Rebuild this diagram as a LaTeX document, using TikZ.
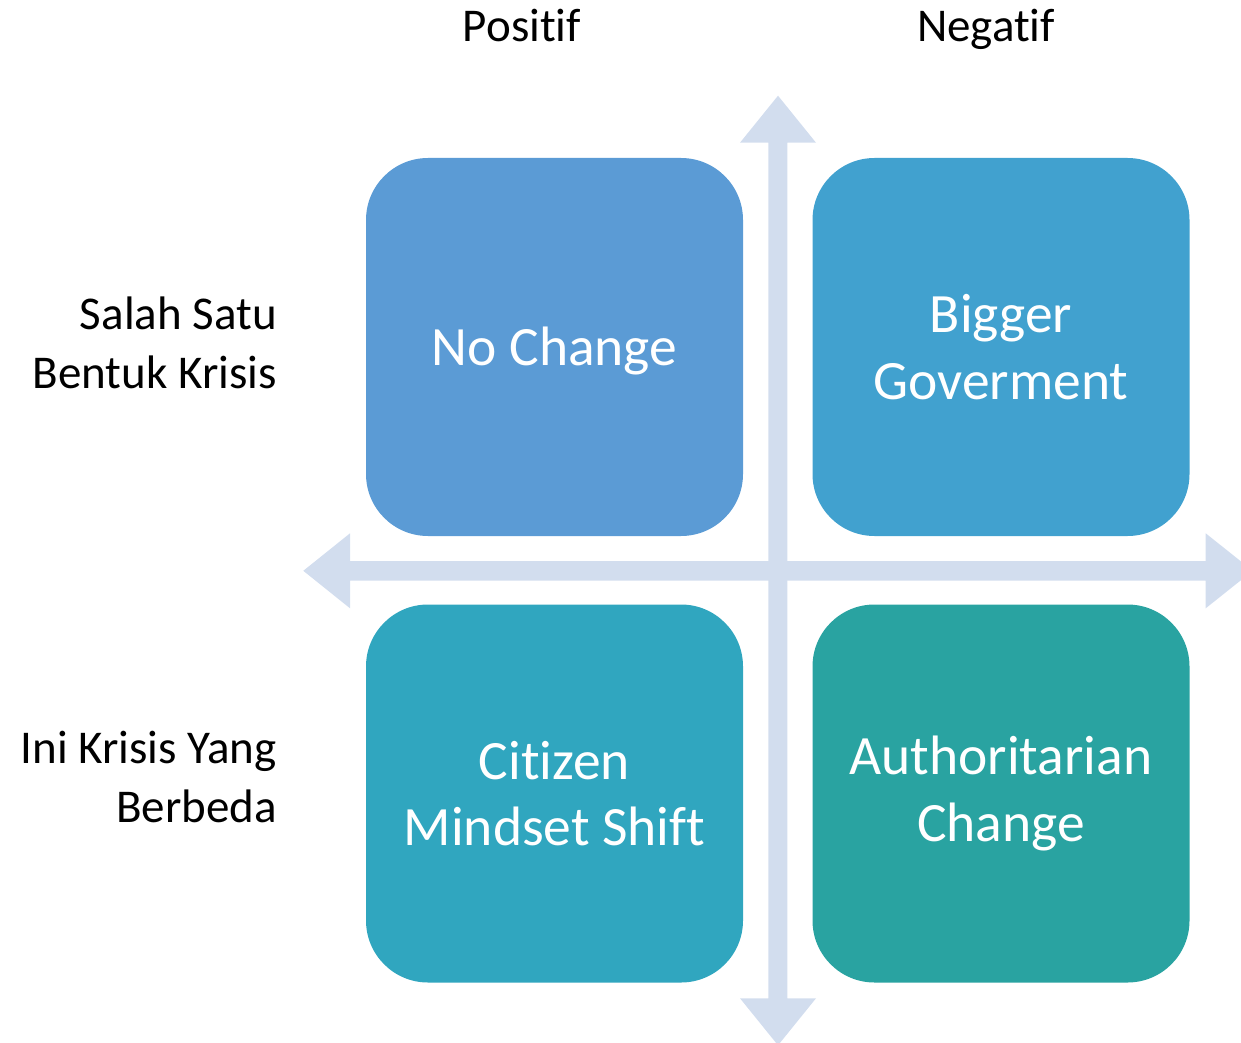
\documentclass[tikz,border=0pt]{standalone}
\usepackage{fontspec}
\setmainfont{Carlito}[Ligatures={NoCommon}]
\definecolor{axiscol}{HTML}{D2DDEE}
\definecolor{cTL}{HTML}{5B9BD5}
\definecolor{cTR}{HTML}{41A1CF}
\definecolor{cBL}{HTML}{30A6BF}
\definecolor{cBR}{HTML}{29A3A1}
\tikzset{
  quad/.style={rounded corners=62pt, minimum width=377pt, minimum height=378pt,
    inner sep=0pt, text=white, align=center,
    font=\fontsize{55.5}{66.7}\selectfont},
  sidelabel/.style={inner sep=0pt, align=right, anchor=east,
    font=\fontsize{47}{58.5}\selectfont},
  toplabel/.style={inner sep=0pt, anchor=base,
    font=\fontsize{47}{58.5}\selectfont},
  axis/.style={fill=axiscol, draw=none}
}
\begin{document}
\begin{tikzpicture}[x=1pt,y=-1pt]
\useasboundingbox (0,0) rectangle (1241,1043);
\begin{scope}
\clip (0,0) rectangle (1241,1043);
% vertical axis
\fill[axis] (768.3,142.7) -- (740,142.7) -- (778,95.7) -- (816,142.7) -- (787.3,142.7)
  -- (787.3,998.3) -- (816,998.3) -- (778,1045.3) -- (740,998.3) -- (768.3,998.3) -- cycle;
% horizontal axis
\fill[axis] (350,561) -- (350,533.3) -- (303.3,570.8) -- (350,608.3) -- (350,580.7)
  -- (1205.7,580.7) -- (1205.7,608.3) -- (1252.7,570.8) -- (1205.7,533.3) -- (1205.7,561) -- cycle;
\end{scope}
% quadrants
\node[quad, fill=cTL] (tl) at (554.5,347) {};
\node[inner sep=0pt, text=white, font=\fontsize{55.5}{66.7}\selectfont, anchor=base] (tlt) at (554.5,365) {No Change};
\node[quad, fill=cTR] (tr) at (1001,347) {Bigger\\Goverment};
\node[quad, fill=cBL] (bl) at (554.5,793.5) {Citizen\\Mindset Shift};
\node[quad, fill=cBR] (br) at (1001,793.5) {Authoritarian\\Change};
% labels
\node[toplabel] (pos) at (522,41.7) {Positif};
\node[toplabel] (neg) at (986,41.7) {Negatif};
\node[sidelabel] (row1) at (277,343) {Salah Satu\\Bentuk Krisis};
\node[sidelabel] (row2) at (277,777) {Ini Krisis Yang\\Berbeda};
\end{tikzpicture}
\end{document}
